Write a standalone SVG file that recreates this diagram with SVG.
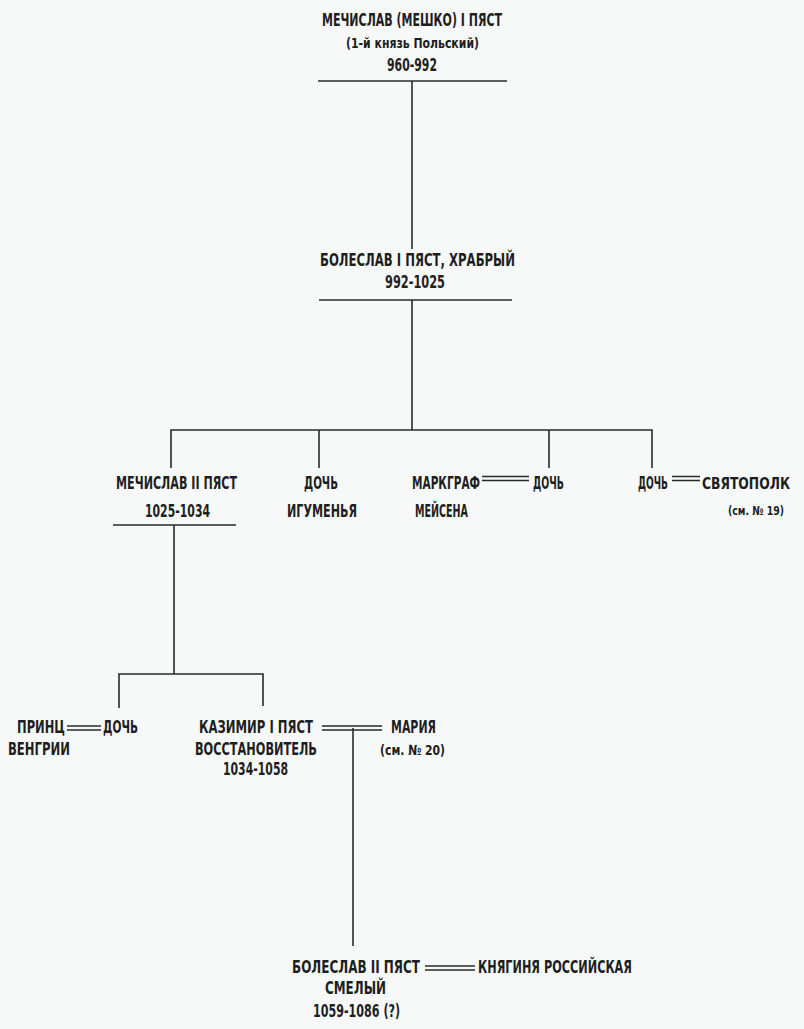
<svg xmlns="http://www.w3.org/2000/svg" width="804" height="1029" viewBox="0 0 804 1029">
<style>
  text { font-family: "DejaVu Sans Condensed", "Liberation Sans Narrow", "Liberation Sans", sans-serif; font-weight: bold; font-size: 17px; fill: #1e1e1e; }
  text.s { font-size: 14px; }
  .ln { stroke: #2a2a2a; stroke-width: 1.6; fill: none; }
  .dbl { stroke: #2a2a2a; stroke-width: 1.3; fill: none; }
</style>
<rect width="804" height="1029" fill="#f6f9f8"/>
<g id="connectors">
  <line class="ln" x1="318" y1="81" x2="507" y2="81"/>
  <line class="ln" x1="412" y1="81" x2="412" y2="249"/>
  <line class="ln" x1="319" y1="300" x2="512" y2="300"/>
  <line class="ln" x1="412" y1="300" x2="412" y2="430"/>
  <polyline class="ln" points="171,468 171,430 652,430 652,468"/>
  <line class="ln" x1="319" y1="430" x2="319" y2="468"/>
  <line class="ln" x1="549" y1="430" x2="549" y2="468"/>
  <line class="ln" x1="113" y1="525" x2="236" y2="525"/>
  <line class="ln" x1="174" y1="525" x2="174" y2="674"/>
  <polyline class="ln" points="119,708 119,674 263,674 263,706"/>
  <path class="dbl" d="M482,476.5H529M482,480.5H529"/>
  <path class="dbl" d="M672,476.5H700M672,480.5H700"/>
  <path class="dbl" d="M67,726H101M67,730H101"/>
  <path class="dbl" d="M322,726H382M322,730H382"/>
  <line class="ln" x1="353" y1="728" x2="353" y2="946"/>
  <path class="dbl" d="M425,966H475M425,970H475"/>
</g>
<g id="mieszko">
  <text x="322" y="26" textLength="180" lengthAdjust="spacingAndGlyphs">МЕЧИСЛАВ (МЕШКО) I ПЯСТ</text>
  <text class="s" x="346" y="48" textLength="133" lengthAdjust="spacingAndGlyphs">(1-й князь Польский)</text>
  <text x="387" y="71" textLength="50" lengthAdjust="spacingAndGlyphs">960-992</text>
</g>
<g id="boleslaw1">
  <text x="320" y="266" textLength="195" lengthAdjust="spacingAndGlyphs">БОЛЕСЛАВ I ПЯСТ, ХРАБРЫЙ</text>
  <text x="385" y="288" textLength="60" lengthAdjust="spacingAndGlyphs">992-1025</text>
</g>
<g id="mieszko2">
  <text x="116" y="489" textLength="121" lengthAdjust="spacingAndGlyphs">МЕЧИСЛАВ II ПЯСТ</text>
  <text x="145" y="517" textLength="65" lengthAdjust="spacingAndGlyphs">1025-1034</text>
</g>
<g id="daughter-abbess">
  <text x="304" y="489" textLength="34" lengthAdjust="spacingAndGlyphs">ДОЧЬ</text>
  <text x="287" y="517" textLength="70" lengthAdjust="spacingAndGlyphs">ИГУМЕНЬЯ</text>
</g>
<g id="margrave">
  <text x="412" y="489" textLength="68" lengthAdjust="spacingAndGlyphs">МАРКГРАФ</text>
  <text x="415" y="517" textLength="53" lengthAdjust="spacingAndGlyphs">МЕЙСЕНА</text>
</g>
<g id="daughter-meissen">
  <text x="533" y="489" textLength="31" lengthAdjust="spacingAndGlyphs">ДОЧЬ</text>
</g>
<g id="daughter-sviatopolk">
  <text x="638" y="489" textLength="30" lengthAdjust="spacingAndGlyphs">ДОЧЬ</text>
</g>
<g id="sviatopolk">
  <text x="702" y="489" font-size="15.5" textLength="88" lengthAdjust="spacingAndGlyphs" style="font-size:15.5px">СВЯТОПОЛК</text>
  <text x="728" y="515" textLength="56" lengthAdjust="spacingAndGlyphs" style="font-size:12.5px">(см. № 19)</text>
</g>
<g id="prince-hungary">
  <text x="17" y="733" textLength="48" lengthAdjust="spacingAndGlyphs">ПРИНЦ</text>
  <text x="8" y="755" textLength="62" lengthAdjust="spacingAndGlyphs">ВЕНГРИИ</text>
</g>
<g id="daughter-hungary">
  <text x="103" y="733" textLength="35" lengthAdjust="spacingAndGlyphs">ДОЧЬ</text>
</g>
<g id="kazimierz">
  <text x="199" y="733" textLength="114" lengthAdjust="spacingAndGlyphs">КАЗИМИР I ПЯСТ</text>
  <text x="195" y="755" textLength="122" lengthAdjust="spacingAndGlyphs">ВОССТАНОВИТЕЛЬ</text>
  <text x="223" y="775" textLength="65" lengthAdjust="spacingAndGlyphs">1034-1058</text>
</g>
<g id="maria">
  <text x="391" y="733" textLength="45" lengthAdjust="spacingAndGlyphs">МАРИЯ</text>
  <text class="s" x="380" y="755" textLength="65" lengthAdjust="spacingAndGlyphs">(см. № 20)</text>
</g>
<g id="boleslaw2">
  <text x="292" y="973" textLength="128" lengthAdjust="spacingAndGlyphs">БОЛЕСЛАВ II ПЯСТ</text>
  <text x="325" y="994" textLength="61" lengthAdjust="spacingAndGlyphs">СМЕЛЫЙ</text>
  <text x="313" y="1017" textLength="87" lengthAdjust="spacingAndGlyphs">1059-1086 (?)</text>
</g>
<g id="princess-rus">
  <text x="478" y="973" textLength="154" lengthAdjust="spacingAndGlyphs">КНЯГИНЯ РОССИЙСКАЯ</text>
</g>
</svg>
